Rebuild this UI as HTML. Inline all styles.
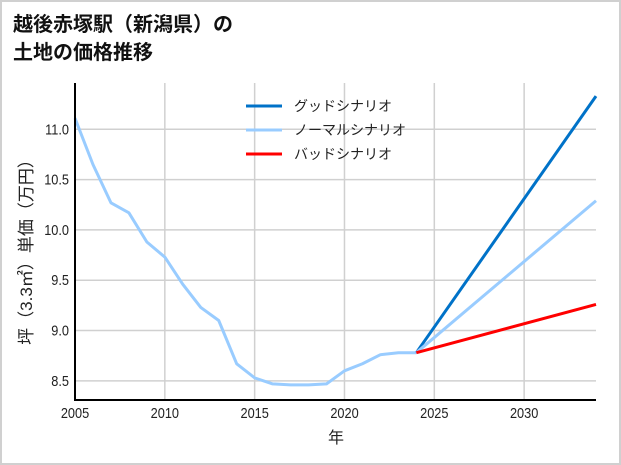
<!DOCTYPE html>
<html><head><meta charset="utf-8"><style>
body{margin:0;background:#fff}
#wrap{position:relative;width:617px;height:461px;border:2px solid #d0d0d0;background:#fff}
svg{position:absolute;left:-2px;top:-2px}
text{font-family:"Liberation Sans","Noto Sans CJK JP",sans-serif}
</style></head><body>
<div id="wrap">
<svg id="chart" width="621" height="465">
<text x="13" y="31" font-size="20" font-weight="bold" fill="#111">越後赤塚駅（新潟県）の</text>
<text x="13" y="59" font-size="20" font-weight="bold" fill="#111">土地の価格推移</text>
<g id="grid"></g><g id="series"></g><g id="axes"></g>
<text x="336" y="443" font-size="16" text-anchor="middle" fill="#222">年</text>
<text transform="translate(32,248) rotate(-90)" font-size="17" text-anchor="middle" fill="#222">坪（3.3㎡）単価（万円）</text>
<g>
<line x1="246" y1="106" x2="282" y2="106" stroke="#0072c8" stroke-width="3"/>
<text x="294" y="111" font-size="14" fill="#222">グッドシナリオ</text>
<line x1="246" y1="130" x2="282" y2="130" stroke="#99ccff" stroke-width="3"/>
<text x="294" y="135" font-size="14" fill="#222">ノーマルシナリオ</text>
<line x1="246" y1="154" x2="282" y2="154" stroke="#ff0000" stroke-width="3"/>
<text x="294" y="159" font-size="14" fill="#222">バッドシナリオ</text>
</g>
</svg></div>
<script>
const years=[2005,2006,2007,2008,2009,2010,2011,2012,2013,2014,2015,2016,2017,2018,2019,2020,2021,2022,2023,2024];
const prices=[11.11,10.65,10.27,10.17,9.88,9.73,9.46,9.23,9.10,8.67,8.53,8.47,8.46,8.46,8.47,8.60,8.67,8.76,8.78,8.78];
const scenarioYears=[2024,2034];
const goodValues=[8.78,11.33];
const normalValues=[8.78,10.29];
const badValues=[8.78,9.26];
const xTicks=[2005,2010,2015,2020,2025,2030];
const yTicks=[8.5,9.0,9.5,10.0,10.5,11.0];
const L=75,R=596,T=83,B=400,xMin=2005,xMax=2034,yMin=8.31,yMax=11.46;
const X=v=>L+(v-xMin)/(xMax-xMin)*(R-L);
const Y=v=>B-(v-yMin)/(yMax-yMin)*(B-T);
const NS="http://www.w3.org/2000/svg";
function mk(t,a,p){const e=document.createElementNS(NS,t);for(const k in a)e.setAttribute(k,a[k]);p.appendChild(e);return e;}
const grid=document.getElementById('grid'),ser=document.getElementById('series'),ax=document.getElementById('axes');
xTicks.forEach(t=>{
 const g=mk('line',{x1:X(t),x2:X(t),y1:T,y2:B,stroke:'#d0d0d0','stroke-width':1.5},grid);
 
 
 const tx=mk('text',{transform:'translate('+X(t)+','+(B+18)+') scale(0.85,1)','font-size':15,'text-anchor':'middle',fill:'#222'},ax);
 tx.textContent=t;
 
 
});
yTicks.forEach(t=>{
 const g=mk('line',{x1:L,x2:R,y1:Y(t),y2:Y(t),stroke:'#d0d0d0','stroke-width':1.5},grid);
 
 
 const tx=mk('text',{transform:'translate('+(L-6)+','+(Y(t)+5)+') scale(0.85,1)','font-size':15,'text-anchor':'end',fill:'#222'},ax);
 tx.textContent=t.toFixed(1);
 
 
});
function line(xs,ys,c,name){
 const p=mk('polyline',{points:xs.map((x,i)=>X(x)+','+Y(ys[i])).join(' '),fill:'none',stroke:c,'stroke-width':3,'stroke-linejoin':'round'},ser);
 
 
}
line(years,prices,'#99ccff','historical-price-line');
line(scenarioYears,goodValues,'#0072c8','good-scenario-line');
line(scenarioYears,normalValues,'#99ccff','normal-scenario-line');
line(scenarioYears,badValues,'#ff0000','bad-scenario-line');
const a1=mk('line',{x1:L,x2:L,y1:T,y2:B+1,stroke:'#000','stroke-width':2},ax);


const a2=mk('line',{x1:L-1,x2:R,y1:B,y2:B,stroke:'#000','stroke-width':2},ax);


</script>
</body></html>
